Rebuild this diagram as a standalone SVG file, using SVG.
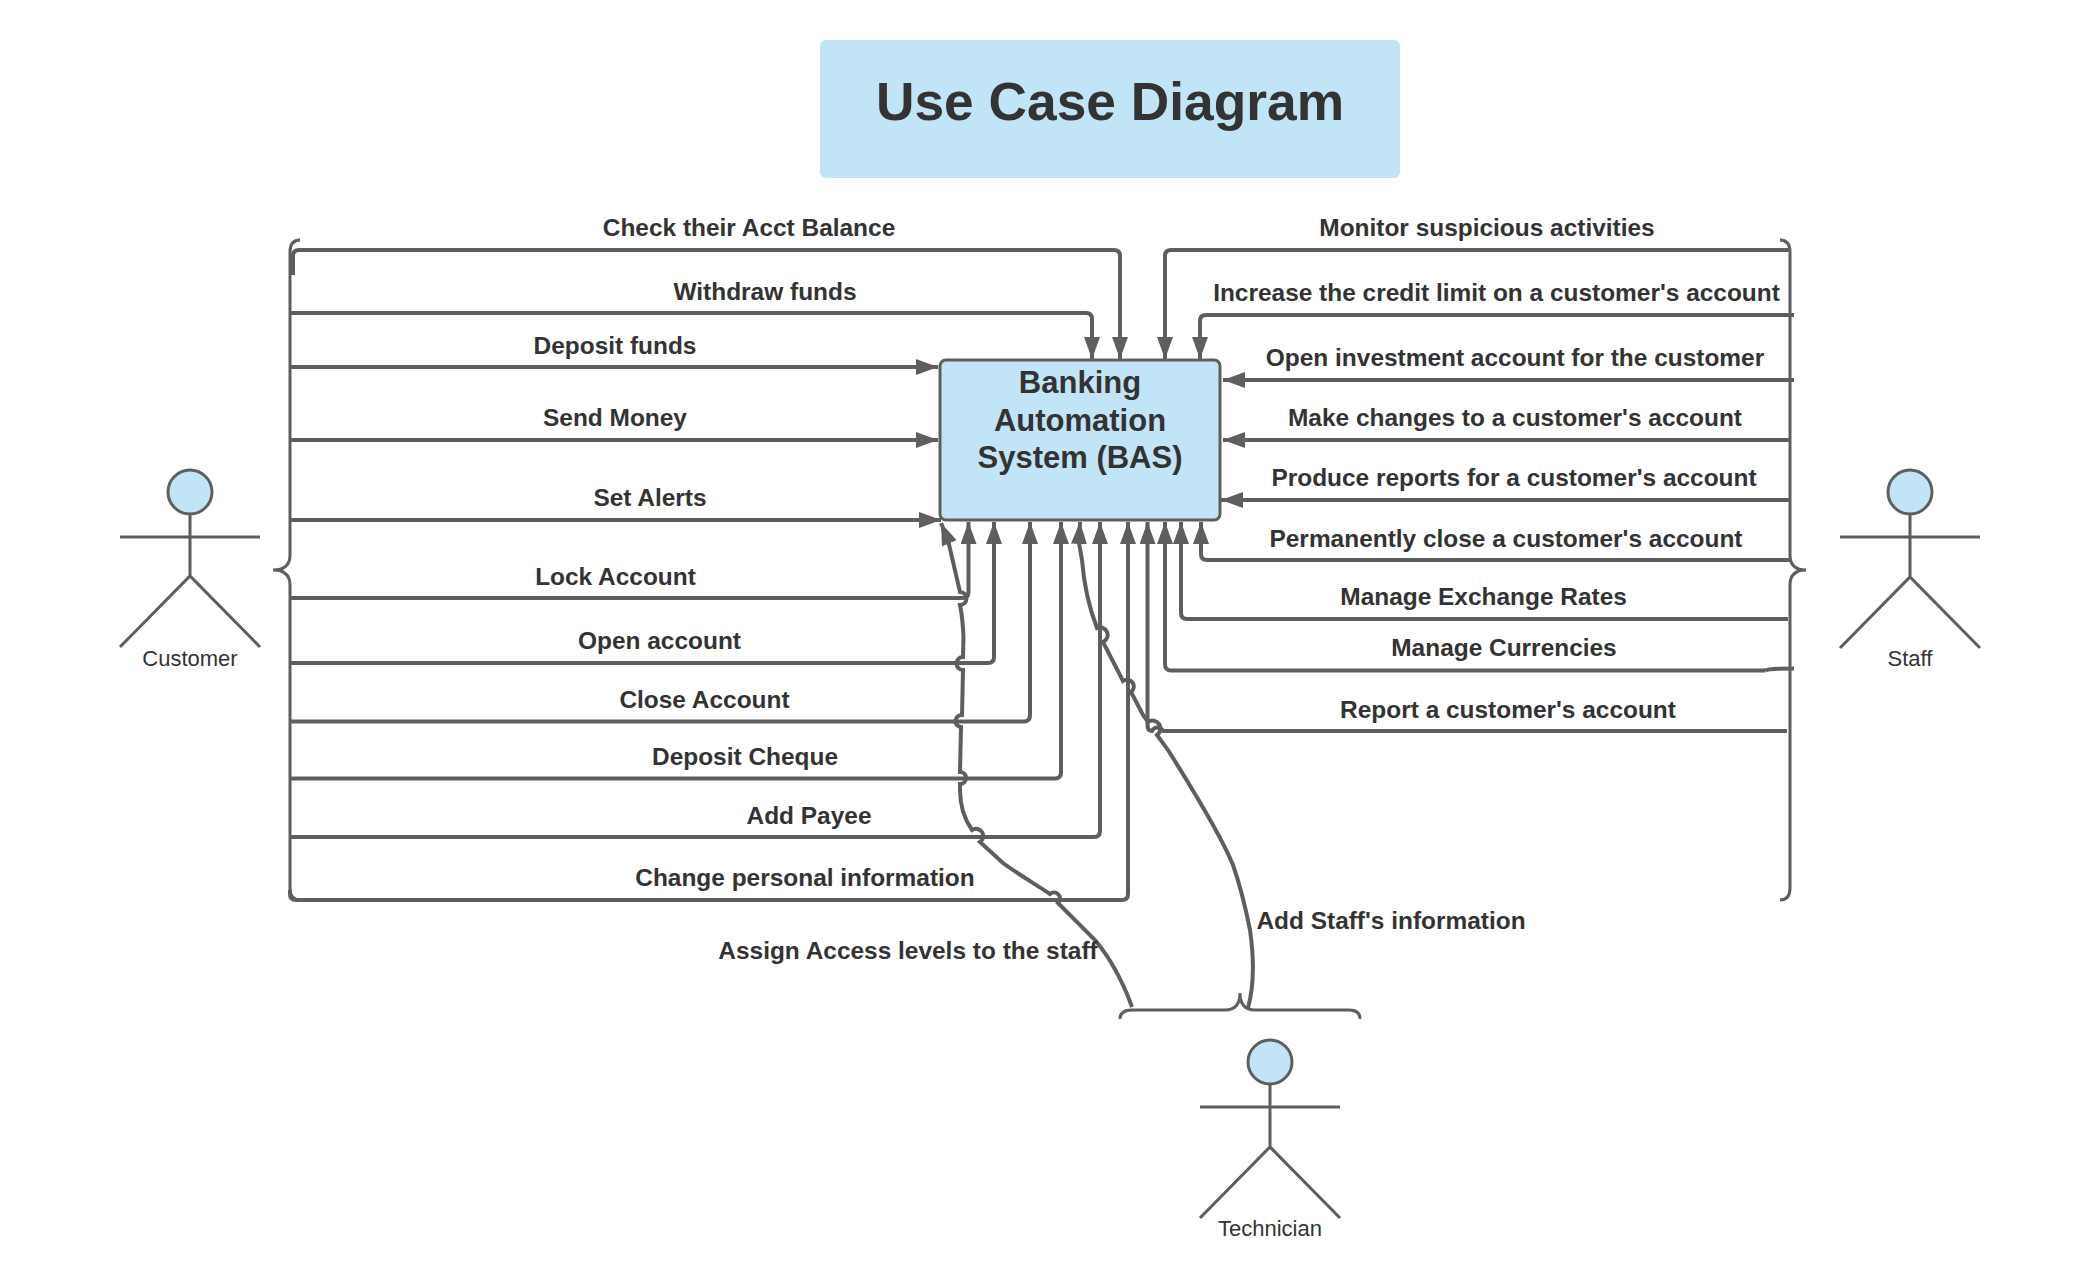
<svg xmlns="http://www.w3.org/2000/svg" width="2100" height="1280" viewBox="0 0 2100 1280">
<style>
text{font-family:"Liberation Sans",Arial,sans-serif;fill:#333333;text-anchor:middle}
.l{font-size:24.45px;font-weight:bold}
.a{font-size:22px}
.c{fill:none;stroke:#5e5e5e;stroke-width:4}
.b{fill:none;stroke:#5e5e5e;stroke-width:3}
.f{fill:#c1e4f7;stroke:#5e5e5e;stroke-width:3}
</style>
<defs>
<marker id="arrow" markerUnits="userSpaceOnUse" markerWidth="24" markerHeight="18" refX="22" refY="8" orient="auto"><path d="M0,0L22,8L0,16Z" fill="#5e5e5e"/></marker>
</defs>
<rect width="2100" height="1280" fill="#ffffff"/>
<g id="title"><rect x="820" y="40" width="580" height="138" rx="6" fill="#c1e4f7"/><text x="1110" y="120" style="font-size:53.3px;font-weight:bold">Use Case Diagram</text></g>
<g id="system"><rect x="940" y="360" width="280" height="160" rx="6" class="f"/>
<text x="1080" y="393" style="font-size:31px;font-weight:bold">Banking</text><text x="1080" y="431" style="font-size:31px;font-weight:bold">Automation</text><text x="1080" y="468" style="font-size:31px;font-weight:bold">System (BAS)</text></g>
<g id="customer"><circle cx="190" cy="492" r="22" class="f"/><path class="b" d="M120,537H260M190,514V576M120,647L190,576L260,647"/><text class="a" x="190" y="666">Customer</text></g>
<g id="staff"><circle cx="1910" cy="492" r="22" class="f"/><path class="b" d="M1840,537H1980M1910,514V577M1840,648L1910,577L1980,648"/><text class="a" x="1910" y="666">Staff</text></g>
<g id="technician"><circle cx="1270" cy="1062" r="22" class="f"/><path class="b" d="M1200,1107H1340M1270,1084V1147M1200,1218L1270,1147L1340,1218"/><text class="a" x="1270" y="1236">Technician</text></g>
<g id="braces">
<path class="b" d="M300,240Q290,240 290,252V555Q290,570 273,570Q290,570 290,585V888Q290,900 300,900"/>
<path class="b" d="M1780,240Q1790,240 1790,252V555Q1790,570 1806,570Q1790,570 1790,585V888Q1790,900 1780,900"/>
<path class="b" d="M1120,1019Q1120,1010 1132,1010H1225Q1240,1010 1240,993Q1240,1010 1255,1010H1349Q1360,1010 1360,1019"/>
</g>
<g id="connectors">
<path class="c" marker-end="url(#arrow)" d="M293,275V256Q293,250 299,250H1114Q1120,250 1120,256V359"/>
<path class="c" marker-end="url(#arrow)" d="M290,313H1086Q1092,313 1092,319V359"/>
<path class="c" marker-end="url(#arrow)" d="M290,367H938"/>
<path class="c" marker-end="url(#arrow)" d="M290,440H938"/>
<path class="c" marker-end="url(#arrow)" d="M290,520H941"/>
<path class="c" marker-end="url(#arrow)" d="M290,598H962Q968.500,598 968.500,592V522"/>
<path class="c" marker-end="url(#arrow)" d="M290,663H988Q994,663 994,657V522"/>
<path class="c" marker-end="url(#arrow)" d="M290,721.500H1024Q1030,721.500 1030,715V522"/>
<path class="c" marker-end="url(#arrow)" d="M290,778.500H1055Q1061,778.500 1061,772V522"/>
<path class="c" marker-end="url(#arrow)" d="M290,837H1094Q1100,837 1100,831V522"/>
<path class="c" marker-end="url(#arrow)" d="M290,890V894Q290,900 296,900H1122Q1128,900 1128,894V522"/>
<path class="c" marker-end="url(#arrow)" d="M1790,250H1171Q1165,250 1165,256V359"/>
<path class="c" marker-end="url(#arrow)" d="M1794,315H1206Q1200,315 1200,321V359"/>
<path class="c" marker-end="url(#arrow)" d="M1794,380H1223"/>
<path class="c" marker-end="url(#arrow)" d="M1790,440H1223"/>
<path class="c" marker-end="url(#arrow)" d="M1790,500H1221"/>
<path class="c" marker-end="url(#arrow)" d="M1790,560H1207Q1201,560 1201,554V522"/>
<path class="c" marker-end="url(#arrow)" d="M1788,619H1187Q1181,619 1181,613V522"/>
<path class="c" marker-end="url(#arrow)" d="M1765,670.500H1171Q1165,670.500 1165,664V522"/>
<path class="c" d="M1765,670.500Q1768,668.500 1794,668.500"/>
<path class="c" marker-end="url(#arrow)" d="M1787,731H1163A6,6 0 0 0 1152,731Q1147.500,731 1147.500,725V522"/>
<path class="c" marker-end="url(#arrow)" d="M1132,1007C1123,982 1110,958 1095,940L1058,903A6,6 0 0 0 1050,894C1035,884 1015,872 1003,863L980,842A6,6 0 0 0 972,830C965,820 960,808 960,790V784A6,6 0 0 0 960,772L961,727A6,6 0 0 1 962,715L963,670A6,6 0 0 1 963,657L963.500,637C963,625 962,615 960,605A6,6 0 0 0 960,592L948,540L941,523"/>
<path class="c" marker-end="url(#arrow)" d="M1248,1008C1253,990 1255,965 1250,930C1245,905 1240,885 1233,865C1222,838 1190,785 1168,750L1157,735A6,6 0 0 0 1148,722L1143,715L1131,692A6,6 0 0 0 1123,681L1103,642A6,6 0 0 0 1097,628C1090,610 1084,585 1082,560L1079,543L1080,522"/>
</g>
<g id="labels">
<text class="l" x="749" y="236">Check their Acct Balance</text>
<text class="l" x="765" y="300">Withdraw funds</text>
<text class="l" x="615" y="354">Deposit funds</text>
<text class="l" x="615" y="426">Send Money</text>
<text class="l" x="650" y="506">Set Alerts</text>
<text class="l" x="615.500" y="585">Lock Account</text>
<text class="l" x="659.500" y="649">Open account</text>
<text class="l" x="704.500" y="708">Close Account</text>
<text class="l" x="745" y="765">Deposit Cheque</text>
<text class="l" x="809" y="824">Add Payee</text>
<text class="l" x="805" y="886">Change personal information</text>
<text class="l" x="908" y="959">Assign Access levels to the staff</text>
<text class="l" x="1391" y="929">Add Staff's information</text>
<text class="l" x="1487" y="236">Monitor suspicious activities</text>
<text class="l" x="1496.500" y="301">Increase the credit limit on a customer's account</text>
<text class="l" x="1515" y="366">Open investment account for the customer</text>
<text class="l" x="1515" y="426">Make changes to a customer's account</text>
<text class="l" x="1514" y="486">Produce reports for a customer's account</text>
<text class="l" x="1506" y="547">Permanently close a customer's account</text>
<text class="l" x="1483.600" y="605">Manage Exchange Rates</text>
<text class="l" x="1504" y="656">Manage Currencies</text>
<text class="l" x="1508" y="718">Report a customer's account</text>
</g>
</svg>
